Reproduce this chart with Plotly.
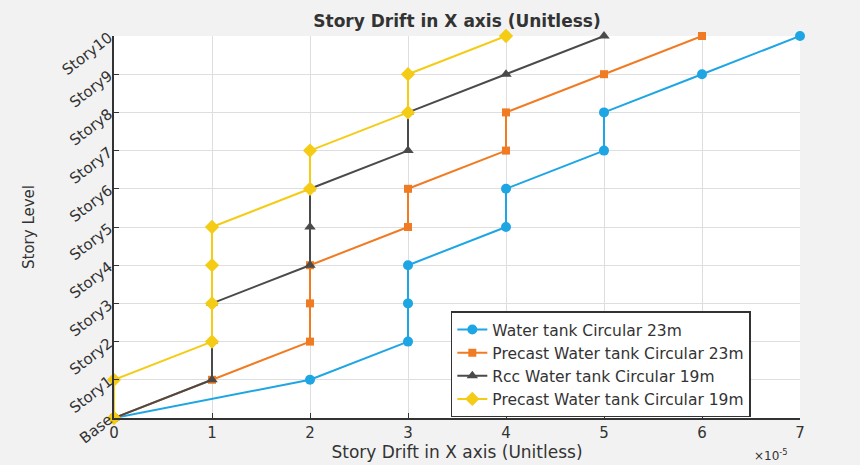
import plotly.graph_objects as go

stories = ["Base", "Story1", "Story2", "Story3", "Story4", "Story5",
           "Story6", "Story7", "Story8", "Story9", "Story10"]
levels = list(range(len(stories)))

# Story drift values (x 1e-5)
water_23 = [0, 2, 3, 3, 3, 4, 4, 5, 5, 6, 7]
precast_23 = [0, 1, 2, 2, 2, 3, 3, 4, 4, 5, 6]
rcc_19 = [0, 1, 1, 1, 2, 2, 2, 3, 3, 4, 5]
precast_19 = [0, 0, 1, 1, 1, 1, 2, 2, 3, 3, 4]

scale = 1e-5
x_ticks = [0, 1, 2, 3, 4, 5, 6, 7]

series = [
    ("Water tank Circular 23m", water_23, "#1ea5e3", "circle", 10),
    ("Precast Water tank Circular 23m", precast_23, "#f07b22", "square", 8),
    ("Rcc Water tank Circular 19m", rcc_19, "#4a4a4a", "triangle-up", 10),
    ("Precast Water tank Circular 19m", precast_19, "#f4cc16", "diamond", 11),
]

FONT = "DejaVu Sans, Liberation Sans, Arial, sans-serif"
TXT = "#333333"

fig = go.Figure()
for name, vals, color, sym, size in series:
    fig.add_trace(go.Scatter(
        x=[v * scale for v in vals], y=levels, name=name,
        mode="lines+markers",
        line=dict(color=color, width=2),
        marker=dict(symbol=sym, size=size, color=color),
        cliponaxis=False,
    ))

fig.update_layout(
    width=860, height=465,
    margin=dict(l=114, r=60, t=36, b=47, autoexpand=False),
    paper_bgcolor="#f2f2f2",
    plot_bgcolor="white",
    font=dict(family=FONT, size=15, color=TXT),
    title=dict(text="<b>Story Drift in X axis (Unitless)</b>",
               x=0.5, xref="paper", xanchor="center",
               y=1 - 21 / 465, yanchor="middle", yref="container",
               font=dict(size=17, color=TXT)),
    legend=dict(
        x=0.491, xanchor="left", y=0.279, yanchor="top",
        xref="paper", yref="paper",
        bgcolor="white", bordercolor="#333333", borderwidth=1.5,
        font=dict(size=15.5, color=TXT),
        tracegroupgap=0, itemwidth=30,
    ),
    showlegend=True,
)

fig.update_xaxes(
    range=[0, 7 * scale],
    tickvals=[t * scale for t in x_ticks],
    ticktext=[str(t) for t in x_ticks],
    showgrid=True, gridcolor="#dedede", gridwidth=1,
    showline=True, linecolor="#333333", linewidth=2,
    ticks="inside", ticklen=5, tickcolor="#333333",
    zeroline=False,
    tickfont=dict(size=15),
    title=dict(text="Story Drift in X axis (Unitless)", standoff=2,
               font=dict(size=17)),
)
fig.update_yaxes(
    range=[0, 10],
    tickvals=levels, ticktext=stories, tickangle=-38,
    showgrid=True, gridcolor="#dedede", gridwidth=1,
    showline=True, linecolor="#333333", linewidth=2,
    ticks="inside", ticklen=5, tickcolor="#333333",
    zeroline=False,
    tickfont=dict(size=15),
    title=dict(text="Story Level", standoff=20, font=dict(size=15)),
)

fig.add_annotation(
    text="×10<sup>-5</sup>", xref="paper", yref="paper",
    x=0.985, y=-0.097, xanchor="right", yanchor="middle",
    showarrow=False, font=dict(size=12, color=TXT),
)

fig.write_html("out.html")
